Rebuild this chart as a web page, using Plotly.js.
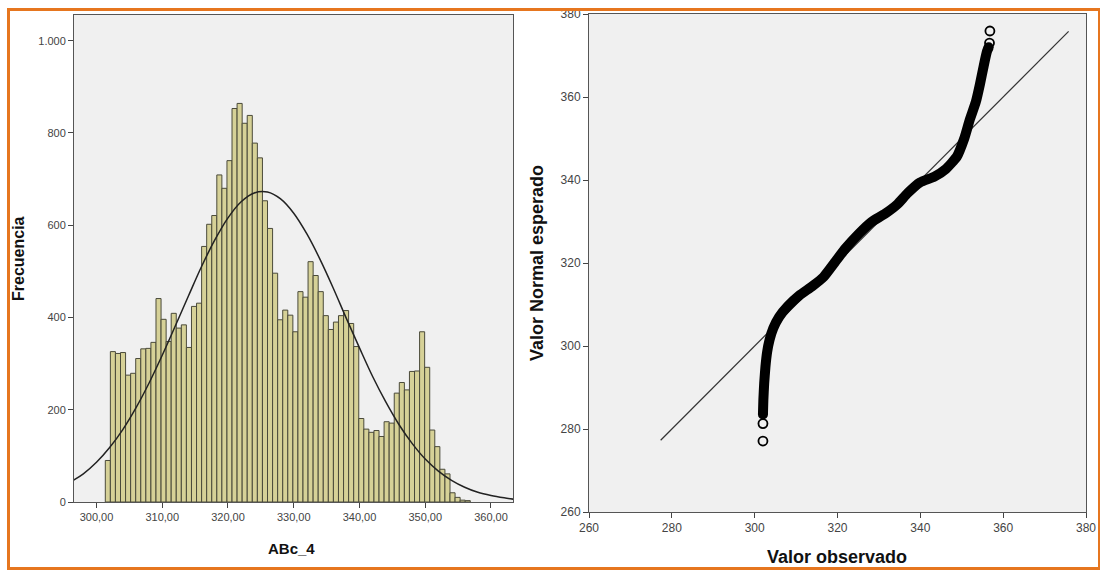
<!DOCTYPE html>
<html>
<head>
<meta charset="utf-8">
<script src="https://cdn.plot.ly/plotly-3.0.1.min.js"></script>
<style>
  html, body { margin: 0; padding: 0; background: #ffffff; }
  #wrap { position: relative; width: 1100px; height: 571px; overflow: hidden; }
  #chart { position: absolute; left: 0; top: 0; width: 1100px; height: 571px; }
  #frame { position: absolute; left: 7px; top: 8px; width: 1088px; height: 556px;
           border: 3px solid #E6761F; pointer-events: none; }
</style>
</head>
<body>
<div id="wrap">
  <div id="chart"></div>
  <div id="frame"></div>
</div>
<script>
// ---------- Histogram data (ABc_4) ----------
const binStart = 301.34;
const binWidth = 0.771;
const binCounts = [90, 326, 322, 324, 275, 279, 311, 332, 333, 346, 441, 396, 348, 409, 377, 384,
  335, 424, 431, 554, 602, 621, 709, 680, 740, 853, 864, 821, 838, 778, 746, 653,
  593, 496, 395, 416, 405, 369, 456, 444, 521, 491, 456, 404, 374, 390, 404, 415,
  387, 337, 181, 158, 151, 155, 142, 174, 171, 236, 259, 243, 283, 284, 369, 292,
  156, 120, 71, 61, 20, 10, 4, 3];

// fitted normal curve
const normX = [296, 298, 300, 302, 304, 306, 308, 310, 312, 314, 316, 318, 320, 322, 324, 326,
  328, 330, 332, 334, 336, 338, 340, 342, 344, 346, 348, 350, 352, 354, 356, 358, 360, 362, 364];
const normY = [43, 61, 86, 118, 157, 204, 258, 318, 382, 447, 511, 568, 616, 651, 670, 672,
  657, 626, 581, 526, 464, 398, 334, 272, 217, 168, 127, 93, 67, 47, 32, 21, 14, 9, 5];

const histTickVals = [300, 310, 320, 330, 340, 350, 360];
const histTickText = ['300,00', '310,00', '320,00', '330,00', '340,00', '350,00', '360,00'];
const freqTickVals = [0, 200, 400, 600, 800, 1000];
const freqTickText = ['0', '200', '400', '600', '800', '1.000'];

// ---------- Normal Q-Q plot data ----------
const qqObs = [302.0, 302.1, 302.3, 302.6, 303.0, 303.6, 304.5, 305.9, 308.0, 310.8, 313.9, 316.6,
  319.3, 322.0, 325.1, 328.2, 331.5, 334.5, 336.9, 339.9, 343.4, 346.1, 348.8, 350.6,
  351.9, 353.4, 354.4, 355.3, 356.1, 356.5];
const qqExp = [283.5, 287.0, 291.0, 295.0, 298.5, 301.5, 304.3, 307.0, 309.6, 312.2, 314.4, 316.6,
  320.1, 323.6, 327.0, 329.9, 331.9, 334.2, 336.8, 339.4, 340.8, 342.6, 345.6, 350.0,
  354.4, 358.8, 363.1, 367.5, 371.0, 372.0];
const qqOutObs = [302.0, 302.0, 356.7, 356.8];
const qqOutExp = [277.1, 281.3, 373.0, 375.9];
const refLineX = [277.3, 375.8];
const refLineY = [277.3, 375.8];
const qqTickVals = [260, 280, 300, 320, 340, 360, 380];

// ---------- Build traces ----------
const binCenters = binCounts.map((_, i) => binStart + (i + 0.5) * binWidth);

const traces = [
  {
    type: 'bar', x: binCenters, y: binCounts, width: binWidth,
    xaxis: 'x', yaxis: 'y',
    marker: { color: '#D6D197', line: { color: '#4A4A3A', width: 1 } },
    hoverinfo: 'x+y', showlegend: false
  },
  {
    type: 'scatter', mode: 'lines', x: normX, y: normY,
    xaxis: 'x', yaxis: 'y',
    line: { color: '#222222', width: 1.5, shape: 'spline' },
    showlegend: false
  },
  {
    type: 'scatter', mode: 'lines', x: refLineX, y: refLineY,
    xaxis: 'x2', yaxis: 'y2',
    line: { color: '#333333', width: 1.2 },
    showlegend: false
  },
  {
    type: 'scatter', mode: 'lines', x: qqObs, y: qqExp,
    xaxis: 'x2', yaxis: 'y2',
    line: { color: '#000000', width: 10, shape: 'spline', smoothing: 0.5 },
    showlegend: false
  },
  {
    type: 'scatter', mode: 'markers', x: [qqObs[0], qqObs[qqObs.length - 1]],
    y: [qqExp[0], qqExp[qqExp.length - 1]],
    xaxis: 'x2', yaxis: 'y2',
    marker: { symbol: 'circle', size: 10, color: '#000000', line: { width: 0 } },
    showlegend: false
  },
  {
    type: 'scatter', mode: 'markers', x: qqOutObs, y: qqOutExp,
    xaxis: 'x2', yaxis: 'y2',
    marker: { symbol: 'circle-open', size: 9, color: '#000000', line: { width: 1.8, color: '#000000' } },
    showlegend: false
  }
];

const W = 1100, H = 571;
const tickFont = { family: 'Liberation Sans, Arial, sans-serif', size: 11, color: '#444444' };
const axisCommon = {
  showgrid: false, zeroline: false, showline: true, mirror: true,
  linecolor: '#555555', linewidth: 1, ticks: 'outside', ticklen: 5,
  tickcolor: '#444444', tickwidth: 1, tickfont: tickFont, fixedrange: true
};

const layout = {
  width: W, height: H,
  margin: { l: 0, r: 0, t: 0, b: 0, pad: 0 },
  paper_bgcolor: '#ffffff', plot_bgcolor: '#F0F0F0',
  showlegend: false,
  xaxis: Object.assign({}, axisCommon, {
    domain: [74 / W, 513 / W], range: [296.58, 363.35],
    tickmode: 'array', tickvals: histTickVals, ticktext: histTickText, anchor: 'y'
  }),
  yaxis: Object.assign({}, axisCommon, {
    domain: [(H - 502) / H, (H - 15) / H], range: [0, 1055.7],
    tickmode: 'array', tickvals: freqTickVals, ticktext: freqTickText, anchor: 'x'
  }),
  xaxis2: Object.assign({}, axisCommon, {
    domain: [589 / W, 1086 / W], range: [260, 380],
    tickmode: 'array', tickvals: qqTickVals, anchor: 'y2',
    tickfont: { family: 'Liberation Sans, Arial, sans-serif', size: 12, color: '#444444' }
  }),
  yaxis2: Object.assign({}, axisCommon, {
    domain: [(H - 512) / H, (H - 14) / H], range: [260, 380],
    tickmode: 'array', tickvals: qqTickVals, anchor: 'x2',
    tickfont: { family: 'Liberation Sans, Arial, sans-serif', size: 12, color: '#444444' }
  }),
  annotations: [
    { text: 'ABc_4', xref: 'paper', yref: 'paper', x: 291 / W, y: (H - 548) / H,
      xanchor: 'center', yanchor: 'middle', showarrow: false,
      font: { family: 'Liberation Sans, Arial, sans-serif', size: 15, color: '#111111', weight: 'bold' } },
    { text: 'Frecuencia', xref: 'paper', yref: 'paper', x: 18 / W, y: (H - 259) / H,
      xanchor: 'center', yanchor: 'middle', showarrow: false, textangle: -90,
      font: { family: 'Liberation Sans, Arial, sans-serif', size: 16, color: '#111111', weight: 'bold' } },
    { text: 'Valor observado', xref: 'paper', yref: 'paper', x: 837 / W, y: (H - 557) / H,
      xanchor: 'center', yanchor: 'middle', showarrow: false,
      font: { family: 'Liberation Sans, Arial, sans-serif', size: 18, color: '#111111', weight: 'bold' } },
    { text: 'Valor Normal esperado', xref: 'paper', yref: 'paper', x: 537 / W, y: (H - 263) / H,
      xanchor: 'center', yanchor: 'middle', showarrow: false, textangle: -90,
      font: { family: 'Liberation Sans, Arial, sans-serif', size: 18, color: '#111111', weight: 'bold' } }
  ]
};

Plotly.newPlot('chart', traces, layout, { displayModeBar: false, staticPlot: true });
</script>
</body>
</html>
